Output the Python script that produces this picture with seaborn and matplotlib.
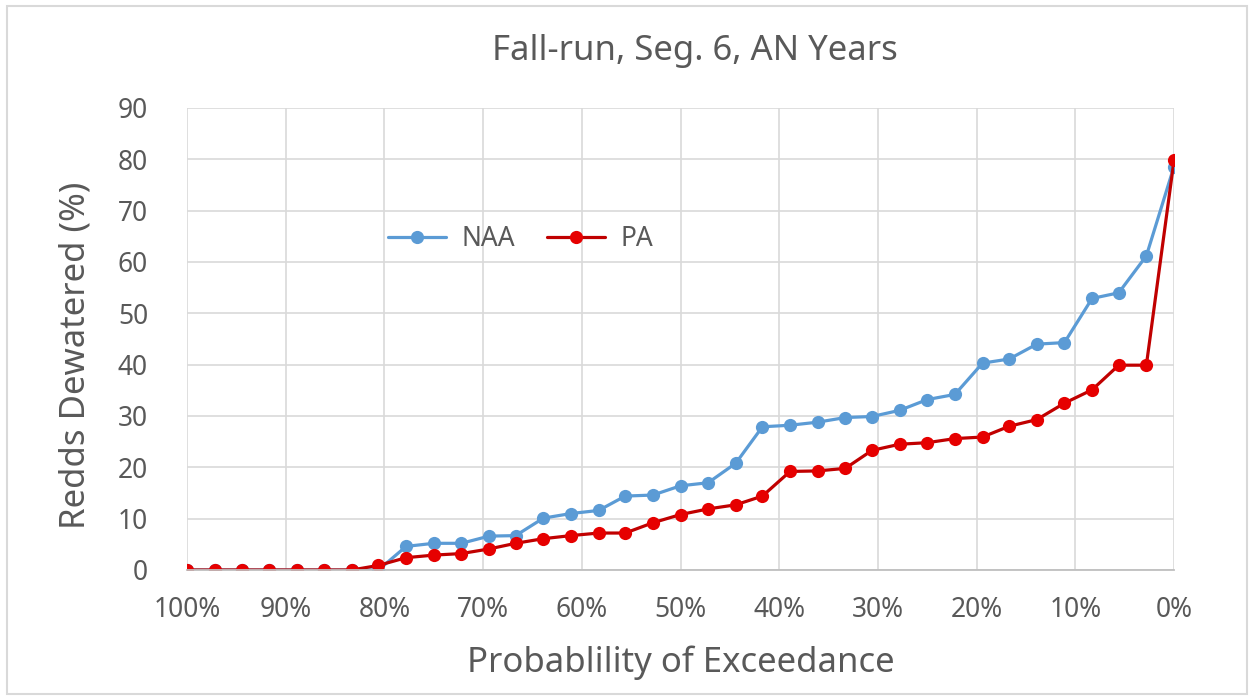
import numpy as np
import pandas as pd
import matplotlib.pyplot as plt
import seaborn as sns
from matplotlib.patches import Rectangle

# Exceedance probability (%), 37 ranked years from 100% down to 0%
exceedance = [100.0, 97.2, 94.4, 91.7, 88.9, 86.1, 83.3, 80.6, 77.8, 75.0,
              72.2, 69.4, 66.7, 63.9, 61.1, 58.3, 55.6, 52.8, 50.0, 47.2,
              44.4, 41.7, 38.9, 36.1, 33.3, 30.6, 27.8, 25.0, 22.2, 19.4,
              16.7, 13.9, 11.1, 8.3, 5.6, 2.8, 0.0]

naa = [0, 0, 0, 0, 0, 0, 0, 0, 4.6, 5.2,
       5.2, 6.6, 6.7, 10.1, 11.0, 11.6, 14.4, 14.6, 16.4, 17.0,
       20.8, 27.9, 28.2, 28.8, 29.7, 29.9, 31.1, 33.2, 34.2, 40.3,
       41.1, 44.0, 44.3, 52.9, 54.0, 61.2, 78.6]

pa = [0, 0, 0, 0, 0, 0, 0, 0.9, 2.4, 2.9,
      3.2, 4.1, 5.2, 6.1, 6.7, 7.2, 7.2, 9.2, 10.8, 11.9,
      12.7, 14.4, 19.2, 19.3, 19.8, 23.3, 24.5, 24.8, 25.6, 25.9,
      28.0, 29.3, 32.5, 35.1, 39.9, 39.9, 79.8]

series_names = ["NAA", "PA"]
x_ticks = [100, 90, 80, 70, 60, 50, 40, 30, 20, 10, 0]
y_ticks = [0, 10, 20, 30, 40, 50, 60, 70, 80, 90]

df = pd.DataFrame({
    "Exceedance": exceedance * 2,
    "Dewatered": naa + pa,
    "Scenario": ["NAA"] * len(naa) + ["PA"] * len(pa),
})

sns.set_style("whitegrid")
plt.rcParams['font.family'] = ['Noto Sans', 'DejaVu Sans']
text_color = "#595959"

fig = plt.figure(figsize=(12.49, 6.96), dpi=100)
ax = fig.add_axes([187 / 1249, 1 - 570 / 696, (1174 - 187) / 1249, (570 - 108) / 696])

colors = {"NAA": "#5B9BD5", "PA": "#C00000"}
sns.lineplot(data=df, x="Exceedance", y="Dewatered", hue="Scenario",
             palette=colors, marker="o", markersize=9.5, linewidth=2.3,
             markeredgewidth=0, ax=ax, legend=False)

# brighter red marker faces for PA, like the original
ax.lines[1].set_markerfacecolor("#E60000")

ax.set_xlim(100, 0)
ax.set_ylim(0, 90)
ax.set_xticks(x_ticks)
ax.set_xticklabels([f"{t}%" for t in x_ticks])
ax.set_yticks(y_ticks)
ax.tick_params(axis="both", labelsize=19, colors=text_color, length=0)
ax.tick_params(axis="x", pad=19)
ax.tick_params(axis="y", pad=28)

ax.grid(True, color="#D9D9D9", linewidth=1.2)
for side in ["top", "left", "right"]:
    ax.spines[side].set_visible(False)
ax.spines["bottom"].set_color("#BFBFBF")
ax.spines["bottom"].set_linewidth(1.3)

ax.set_xlabel("Probablility of Exceedance", fontsize=25, color=text_color, labelpad=15)
ax.set_ylabel("Redds Dewatered (%)", fontsize=25, color=text_color)
ax.yaxis.set_label_coords(-95 / 987, 0.465)
fig.text(0.556, 1 - 51 / 696, "Fall-run, Seg. 6, AN Years", fontsize=25,
         color=text_color, ha="center", va="center")

handles = [plt.Line2D([], [], color="#5B9BD5", marker="o", markersize=9.5, linewidth=2.3,
                      markeredgewidth=0),
           plt.Line2D([], [], color="#C00000", marker="o", markersize=9.5, linewidth=2.3,
                      markerfacecolor="#E60000", markeredgewidth=0)]
leg = ax.legend(handles, series_names, loc="center", bbox_to_anchor=(0.338, 0.717),
                ncol=2, frameon=False, fontsize=19, handlelength=2.2,
                columnspacing=1.2, handletextpad=0.6)
for t in leg.get_texts():
    t.set_color(text_color)

# light chart-area border
fig.patches.append(Rectangle((7 / 1249, 2 / 696), 1240 / 1249, 688 / 696,
                             transform=fig.transFigure, fill=False,
                             edgecolor="#D9D9D9", linewidth=1.5))

fig.savefig("out.png", dpi=100)
